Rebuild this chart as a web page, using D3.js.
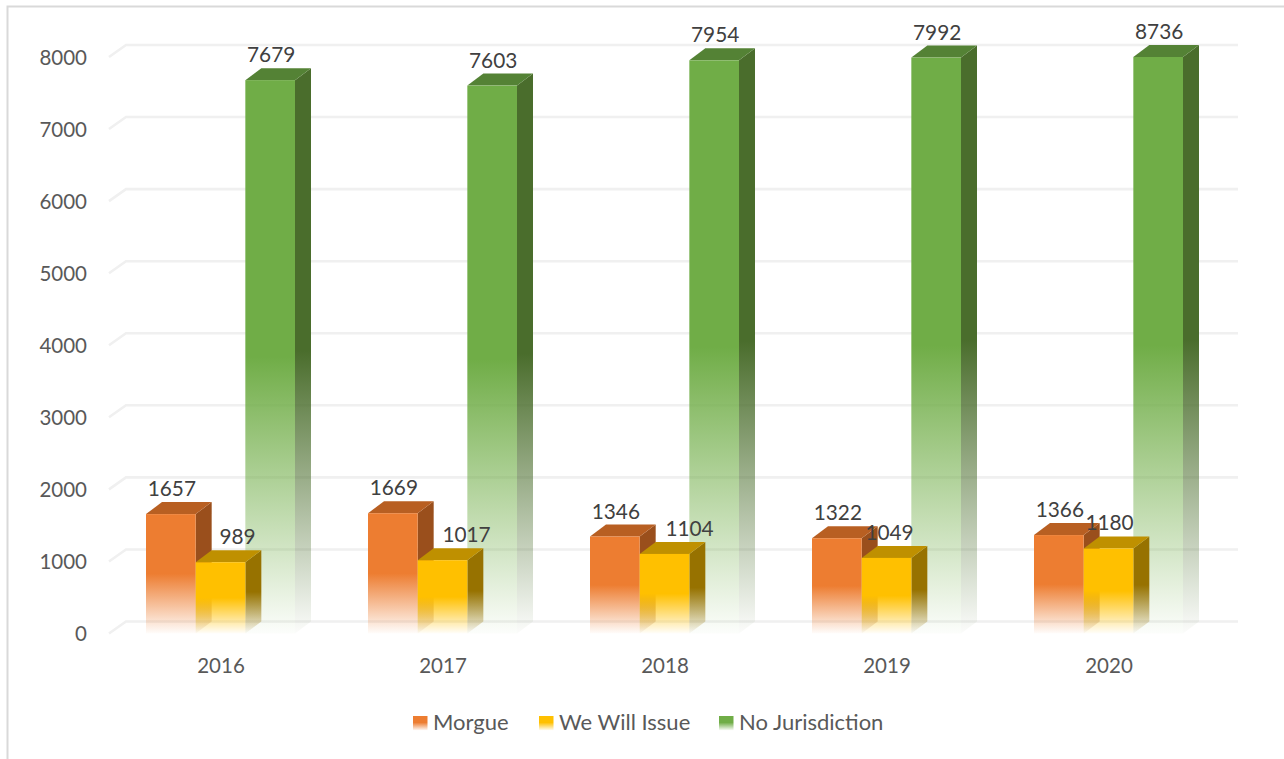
<!DOCTYPE html>
<html><head><meta charset="utf-8">
<script src="https://cdn.jsdelivr.net/npm/d3@7"></script>
<style>
html,body{margin:0;padding:0;background:#fff;overflow:hidden}
svg{display:block}
text{font-family:Lato,"Open Sans",sans-serif}
</style></head><body>
<svg id="c" width="1284" height="759"></svg>
<script>
const categories = ["2016","2017","2018","2019","2020"];
const seriesNames = ["Morgue","We Will Issue","No Jurisdiction"];
const morgue = [1657,1669,1346,1322,1366];
const weWillIssue = [989,1017,1104,1049,1180];
const noJurisdiction = [7679,7603,7954,7992,8736];
const yTicks = [0,1000,2000,3000,4000,5000,6000,7000,8000];
const frontColors = ["#ED7D31","#FFC000","#70AD47"];
const topColors = ["#B85F22","#BF9000","#548235"];
const sideColors = ["#9A4F1C","#977200","#4A6D2C"];
const legendX = [413,539,719];
const yellowLabelShift = [16,23,24,2,0];

const svg = d3.select("#c");
const dx = 16, dy = 12;
const y = d3.scaleLinear().domain([0,8000]).range([633.5,57]).clamp(true);
const x0 = d3.scaleBand().domain(categories).range([110,1220]);
const x1 = d3.scaleBand().domain(d3.range(3)).range([36,185]);
const values = [morgue, weWillIssue, noJurisdiction];

// gradients
const defs = svg.append("defs");
function grad(id,color,mid){
  const g = defs.append("linearGradient").attr("id",id).attr("x1",0).attr("y1",0).attr("x2",0).attr("y2",1);
  g.append("stop").attr("offset",0).attr("stop-color",color);
  g.append("stop").attr("offset",mid).attr("stop-color",color);
  g.append("stop").attr("offset",1).attr("stop-color",color).attr("stop-opacity",0.02);
}
frontColors.forEach((c,i)=>{grad("f"+i,c,0.5);grad("s"+i,sideColors[i],0.5);grad("l"+i,c,0.45);});

// frame
svg.append("path").attr("d","M7.5,759V6.5H1284").attr("fill","none").attr("stroke","#D9D9D9").attr("stroke-width",2);

// gridlines (3D floor/wall)
const grid = svg.append("g");
yTicks.forEach(t=>{
  const py = y(t);
  grid.append("path")
    .attr("d",`M109,${py}L${109+dx+1},${py-dy}H1238`)
    .attr("fill","none").attr("stroke","#F0F0F0").attr("stroke-width",2.6);
});

// axes
const yAxis = d3.axisLeft(y).tickValues(yTicks).tickSize(0).tickPadding(0).tickFormat(d3.format("d"));
const gy = svg.append("g").attr("transform","translate(87,0)").call(yAxis);
gy.select(".domain").remove();
gy.selectAll("text").attr("font-size",20.5).attr("fill","#595959").style("font-family","Lato").attr("dy","0.36em");

const xAxis = d3.axisBottom(x0).tickSize(0).tickPadding(0);
const gx = svg.append("g").attr("transform","translate(0,658)").call(xAxis);
gx.select(".domain").remove();
gx.selectAll("text").attr("font-size",20.5).attr("fill","#595959").style("font-family","Lato").attr("dy","0.71em");

// bars: green first, then orange, then yellow
const marks = svg.append("g");
[2,0,1].forEach(s=>{
  categories.forEach((c,k)=>{
    const xl = x0(c)+x1(s), w = x1.bandwidth(), yt = y(values[s][k]), yb = y(0);
    const g = marks.append("g");
    g.append("path").attr("d",`M${xl+w},${yt}L${xl+w+dx},${yt-dy}V${yb-dy}L${xl+w},${yb}Z`).attr("fill",`url(#s${s})`);
    g.append("path").attr("d",`M${xl},${yt}L${xl+dx},${yt-dy}H${xl+w+dx}L${xl+w},${yt}Z`).attr("fill",topColors[s]);
    g.append("rect").attr("x",xl).attr("y",yt).attr("width",w).attr("height",yb-yt).attr("fill",`url(#f${s})`);
  });
});

// data labels
const labels = svg.append("g");
[0,1,2].forEach(s=>{
  categories.forEach((c,k)=>{
    labels.append("text")
      .attr("x",x0(c)+x1(s)+x1.bandwidth()/2+1+(s===1?yellowLabelShift[k]:0))
      .attr("y",y(values[s][k])-18)
      .attr("text-anchor","middle")
      .attr("font-size",20.8).attr("fill","#404040")
      .text(values[s][k]);
  });
});

// legend
const legend = svg.append("g");
seriesNames.forEach((n,i)=>{
  legend.append("rect").attr("x",legendX[i]).attr("y",716).attr("width",14.5).attr("height",14.5).attr("fill",`url(#l${i})`);
  legend.append("text").attr("x",legendX[i]+20).attr("y",730).attr("font-size",22).attr("fill","#595959").text(n);
});
</script>
</body></html>
